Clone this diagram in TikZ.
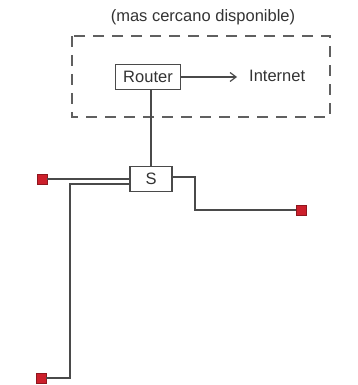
\documentclass[tikz,border=0pt]{standalone}
\usepackage{fontspec}
\setmainfont{Liberation Sans}
\usetikzlibrary{arrows.meta}
\definecolor{linegray}{HTML}{4A4A4A}
\definecolor{dashgray}{HTML}{606060}
\definecolor{portred}{HTML}{CC1F2B}
\begin{document}
\begin{tikzpicture}[x=1pt,y=-1pt,
  txt/.style={font=\fontsize{16.5}{19}\selectfont, text=black!80, inner sep=0pt},
  boxnode/.style={txt, draw=linegray, line width=1.2pt, fill=white, inner sep=0pt},
  wire/.style={draw=linegray, line width=1.2pt},
  port/.style={draw=portred!70!black, fill=portred, minimum size=10pt, inner sep=0pt, line width=0.6pt},
  zone/.style={draw=dashgray, line width=1.8pt, dash pattern=on 11pt off 8pt}]
\useasboundingbox (0,0) rectangle (357,385);
% dashed zone
\draw[zone] (72,36) rectangle (330,117);
\node[txt] (title) at (203,17) {(mas cercano disponible)};
% nodes
\node[boxnode, minimum width=65pt, minimum height=25pt] (router) at (148,77) {Router};
\node[txt, anchor=west] (inet) at (249,76) {Internet};
\node[boxnode, minimum width=42pt, minimum height=25pt] (S) at (151,179) {S};
\node[port] (p1) at (42,179) {};
\node[port] (p2) at (301,210) {};
\node[port] (p3) at (41,378) {};
\coordinate (ahead) at (237,77);
\coordinate (c1) at (70,184);
\coordinate (c2) at (195,177);
% connectors
\draw[wire, -{Straight Barb[length=6pt,width=9pt]}] (router.east |- ahead) -- (ahead);
\draw[wire] (S.north) -- (S.north |- router.south);
\draw[wire] (p1.east) -- (p1.east -| S.west);
\draw[wire] (S.west |- c1) -- (c1) |- (p3.east);
\draw[wire] (S.east |- c2) -- (c2) |- (p2.west);
\end{tikzpicture}
\end{document}
